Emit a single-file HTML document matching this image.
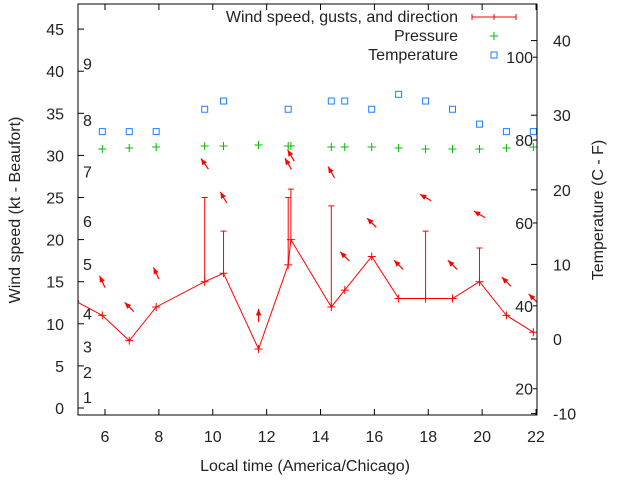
<!DOCTYPE html>
<html><head><meta charset="utf-8"><style>
body{margin:0;background:#fff;}
svg{display:block;font-family:"Liberation Sans",sans-serif;font-size:16px;}
</style></head><body>
<svg id="c" width="640" height="480"></svg>
<script>
const hours=[4.9,5.9,6.9,7.9,9.7,10.4,11.7,12.8,12.9,14.4,14.9,15.9,16.9,17.9,18.9,19.9,20.9,21.9];
const speeds=[12.7,11,8,12,15,16,7,17,20,12,14,18,13,13,13,15,11,9];
const gusts=[null,null,null,null,25,21,null,25,26,24,null,null,null,21,null,19,null,null];
const arrowDirs=[null,335,315,335,325,330,0,330,330,330,315,315,315,300,315,300,315,315];
const pressHours=[5.9,6.9,7.9,9.7,10.4,11.7,12.8,12.9,14.4,14.9,15.9,16.9,17.9,18.9,19.9,20.9,21.9];
const pressures=[1012.5,1013,1013.5,1014,1014,1014.5,1014,1014,1013.5,1013.5,1013.5,1013,1012.5,1012.5,1012.5,1013,1013.5];
const tempHours=[5.9,6.9,7.9,9.7,10.4,12.8,14.4,14.9,15.9,16.9,17.9,18.9,19.9,20.9,21.9];
const temps=[27.8,27.8,27.8,30.8,31.9,30.8,31.9,31.9,30.8,32.8,31.9,30.8,28.8,27.8,27.8];
const xTicks=[6,8,10,12,14,16,18,20,22];
const yTicks=[0,5,10,15,20,25,30,35,40,45];
const y2Ticks=[-10,0,10,20,30,40];
const beaufort=[[1,1.3],[2,4.3],[3,7.3],[4,11.2],[5,17.1],[6,22.2],[7,28.1],[8,34.2],[9,40.9]];
const fahr=[100,80,60,40,20];

const L=78,R=537,T=4,B=415;
const X=h=>105+(h-6)*26.94;
const Y=k=>408-k*8.42;
const Y2=c=>339-c*7.46;
const YP=p=>150-(p-1012)*2;
const svg=document.getElementById('c');
const NS='http://www.w3.org/2000/svg';
function el(t,a,p){const e=document.createElementNS(NS,t);for(const k in a)e.setAttribute(k,a[k]);(p||svg).appendChild(e);return e;}
function txt(s,a){const e=el('text',a);e.textContent=s;return e;}

const defs=el('defs',{});const cp=el('clipPath',{id:'clip'},defs);el('rect',{x:L,y:T,width:R-L,height:B-T},cp);

xTicks.forEach(t=>{const x=X(t);
 let e=el('line',{x1:x,y1:B,x2:x,y2:B-6,stroke:'#000'});
 el('line',{x1:x,y1:T,x2:x,y2:T+6,stroke:'#000'});
 e=txt(t,{x:x,y:442,'text-anchor':'middle',fill:'#222'});});
yTicks.forEach(t=>{const y=Y(t);
 el('line',{x1:L,y1:y,x2:L+6,y2:y,stroke:'#000'});
 const e=txt(t,{x:64,y:y+6,'text-anchor':'end',fill:'#222'});});
y2Ticks.forEach(t=>{const y=Y2(t);
 el('line',{x1:R,y1:y,x2:R-6,y2:y,stroke:'#000'});
 const e=txt(t,{x:553,y:y+6,fill:'#222'});});
beaufort.forEach(b=>{const e=txt(b[0],{x:83,y:Y(b[1])+6,fill:'#222'});});
fahr.forEach(f=>{const y=Y2((f-32)*5/9);el('line',{x1:R,y1:y,x2:R-4,y2:y,stroke:'#000'});
 const e=txt(f,{x:533,y:y+6,'text-anchor':'end',fill:'#222'});});

const g=el('g',{'clip-path':'url(#clip)'});
let d='';hours.forEach((h,i)=>{d+=(i?'L':'M')+X(h)+','+Y(speeds[i]);});
let e=el('path',{d:d,fill:'none',stroke:'#f00','stroke-width':1},g);
hours.forEach((h,i)=>{const x=X(h),y=Y(speeds[i]);
 const m=el('path',{d:`M${x-4},${y}h8M${x},${y-4}v8`,stroke:'#f00'},g);
 if(gusts[i]!=null){const gy=Y(gusts[i]);const b=el('path',{d:`M${x},${y}V${gy}M${x-3},${gy}h6`,stroke:'#f00',fill:'none'},g);}
 if(arrowDirs[i]!=null){const c=Y(Math.max(speeds[i],gusts[i]||0)+4);const a=arrowDirs[i]*Math.PI/180;
  const dx=Math.sin(a)*6.5,dy=-Math.cos(a)*6.5;const tx=x+dx,ty=c+dy;
  const ang=Math.atan2(dy,dx);const hx1=tx-7*Math.cos(ang-0.4),hy1=ty-7*Math.sin(ang-0.4),hx2=tx-7*Math.cos(ang+0.4),hy2=ty-7*Math.sin(ang+0.4);
  const ar=el('g',{},g);
  el('line',{x1:x-dx,y1:c-dy,x2:tx,y2:ty,stroke:'#f00','stroke-width':1.2},ar);
  el('path',{d:`M${tx},${ty}L${hx1},${hy1}L${hx2},${hy2}Z`,fill:'#f00'},ar);}
});
pressHours.forEach((h,i)=>{const x=X(h),y=YP(pressures[i]);const m=el('path',{d:`M${x-4},${y}h8M${x},${y-4}v8`,stroke:'#0b0'},g);});
tempHours.forEach((h,i)=>{const x=X(h),y=Y2(temps[i]);const m=el('rect',{x:x-3,y:y-3,width:6,height:6,fill:'none',stroke:'#1a80ff'},g);});

e=el('rect',{x:L,y:T,width:R-L,height:B-T,fill:'none',stroke:'#000'});

txt('Wind speed, gusts, and direction',{x:458,y:22,'text-anchor':'end',fill:'#222'});
el('path',{d:'M472,17h44M472,14v6M516,14v6M494,14v6',stroke:'#f00'});
txt('Pressure',{x:458,y:41,'text-anchor':'end',fill:'#222'});
el('path',{d:'M490,36h8M494,32v8',stroke:'#0b0'});
txt('Temperature',{x:458,y:60,'text-anchor':'end',fill:'#222'});
el('rect',{x:491,y:52,width:6,height:6,fill:'none',stroke:'#1a80ff'});

e=txt('Local time (America/Chicago)',{x:305,y:471,'text-anchor':'middle',fill:'#222'});
e=txt('Wind speed (kt - Beaufort)',{x:0,y:0,'text-anchor':'middle',fill:'#222',transform:'translate(20,210) rotate(-90)'});
e=txt('Temperature (C - F)',{x:0,y:0,'text-anchor':'middle',fill:'#222',transform:'translate(603,210) rotate(-90)'});
</script>
</body></html>
